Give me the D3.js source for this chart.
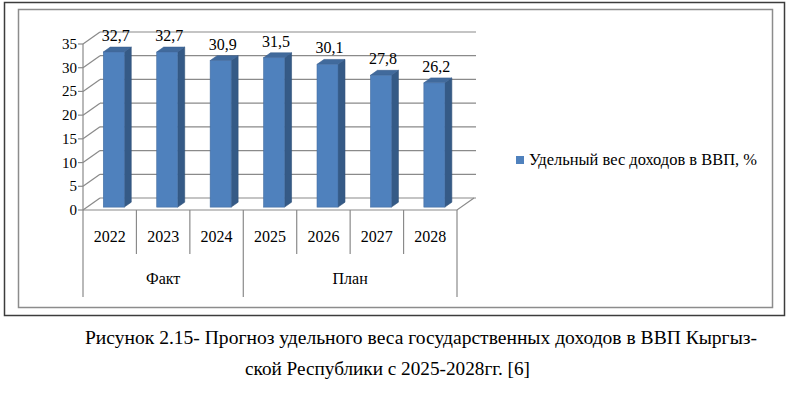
<!DOCTYPE html>
<html><head><meta charset="utf-8"><script src="https://cdn.jsdelivr.net/npm/d3@7"></script></head>
<body style="margin:0">
<script>
// chart data
var years = ["2022", "2023", "2024", "2025", "2026", "2027", "2028"];
var values = [32.7, 32.7, 30.9, 31.5, 30.1, 27.8, 26.2];
var groupNames = ["Факт", "План"];
var groupSizes = [3, 4];
var yTicks = [0, 5, 10, 15, 20, 25, 30, 35];
var seriesName = "Удельный вес доходов в ВВП, %";
var captionLines = [
  "Рисунок 2.15- Прогноз удельного веса государственных доходов в ВВП Кыргыз-",
  "ской Республики с 2025-2028гг. [6]"
];

var W = 800, H = 393;
var DX = 17, DY = -12; // depth of the 3d floor / walls
var FONT = '"Liberation Serif", "Times New Roman", serif';

var svg = d3.select("body").append("svg")
    .attr("width", W)
    .attr("height", H);

var x = d3.scaleBand().domain(years).range([83, 457]);
var y = d3.scaleLinear().domain([0, 35]).range([210, 44]);

// frames
svg.append("rect")
    .attr("x", 4.5).attr("y", 2.5).attr("width", 780).attr("height", 313)
    .attr("fill", "none").attr("stroke", "#3c3c3c").attr("stroke-width", 1.5);
svg.append("rect")
    .attr("x", 18.5).attr("y", 9.5).attr("width", 754).attr("height", 298)
    .attr("fill", "none").attr("stroke", "#8c8c8c").attr("stroke-width", 1.5);

var grid = svg.append("g").attr("stroke", "#8a8a8a").attr("stroke-width", 1.2).attr("fill", "none");

// back wall gridlines + side wall diagonals
yTicks.forEach(function(t) {
  grid.append("line")
      .attr("x1", x.range()[0] + DX).attr("x2", 476)
      .attr("y1", y(t) + DY).attr("y2", y(t) + DY);
  grid.append("line")
      .attr("x1", x.range()[0]).attr("x2", x.range()[0] + DX)
      .attr("y1", y(t)).attr("y2", y(t) + DY);
  grid.append("line")
      .attr("x1", x.range()[0] - 5).attr("x2", x.range()[0])
      .attr("y1", y(t)).attr("y2", y(t));
});
// vertical axis
grid.append("line")
    .attr("x1", x.range()[0]).attr("x2", x.range()[0])
    .attr("y1", y(35)).attr("y2", y(0));
// floor
grid.append("path")
    .attr("d", "M" + x.range()[0] + "," + y(0) +
               "L" + x.range()[1] + "," + y(0) +
               "L" + (x.range()[1] + DX) + "," + (y(0) + DY));

// category separators on the axis
var bounds = years.map(function(d) { return x(d); }).concat([x.range()[1]]);
var groupEdges = [0];
groupSizes.forEach(function(n, i) { groupEdges.push(groupEdges[i] + n); });
bounds.forEach(function(bx, i) {
  var isGroupEdge = groupEdges.indexOf(i) >= 0;
  grid.append("line")
      .attr("x1", bx).attr("x2", bx)
      .attr("y1", y(0)).attr("y2", isGroupEdge ? 297 : 254);
});

// y tick labels
svg.append("g").selectAll("text")
    .data(yTicks)
  .enter().append("text")
    .attr("x", 77)
    .attr("y", function(d) { return y(d) + 5; })
    .attr("text-anchor", "end")
    .style("font-family", FONT)
    .style("font-size", "15px")
    .text(function(d) { return d; });

// 3d bars
var f0 = 0.24, f1 = 0.65;
var bw = 21;
var bars = svg.append("g");
years.forEach(function(yr, i) {
  var v = values[i];
  var cx = x(yr) + x.bandwidth() / 2 + DX * f0;
  var x0 = cx - bw / 2, x1 = cx + bw / 2;
  var yb = y(0) + DY * f0, yt = y(v) + DY * f0;
  var ddx = DX * (f1 - f0), ddy = DY * (f1 - f0);
  // side
  bars.append("path")
      .attr("d", "M" + x1 + "," + yb + "L" + (x1 + ddx) + "," + (yb + ddy) +
                 "L" + (x1 + ddx) + "," + (yt + ddy) + "L" + x1 + "," + yt + "Z")
      .attr("fill", "#355a86").attr("stroke", "#2f5079").attr("stroke-width", 0.6);
  // top
  bars.append("path")
      .attr("d", "M" + x0 + "," + yt + "L" + x1 + "," + yt +
                 "L" + (x1 + ddx) + "," + (yt + ddy) + "L" + (x0 + ddx) + "," + (yt + ddy) + "Z")
      .attr("fill", "#416a9c").attr("stroke", "#3a6090").attr("stroke-width", 0.6);
  // front
  bars.append("rect")
      .attr("x", x0).attr("y", yt).attr("width", bw).attr("height", yb - yt)
      .attr("fill", "#4f81bd").attr("stroke", "#466fa3").attr("stroke-width", 0.6);
  // value label
  bars.append("text")
      .attr("x", cx + 2)
      .attr("y", yt + ddy - 6)
      .attr("text-anchor", "middle")
      .style("font-family", FONT)
      .style("font-size", "16px")
      .text(String(v).replace(".", ","));
});

// year labels
svg.append("g").selectAll("text")
    .data(years)
  .enter().append("text")
    .attr("x", function(d) { return x(d) + x.bandwidth() / 2; })
    .attr("y", 242)
    .attr("text-anchor", "middle")
    .style("font-family", FONT)
    .style("font-size", "16px")
    .text(function(d) { return d; });

// group labels
groupNames.forEach(function(g, i) {
  var a = bounds[groupEdges[i]], b = bounds[groupEdges[i + 1]];
  svg.append("text")
      .attr("x", (a + b) / 2)
      .attr("y", 284)
      .attr("text-anchor", "middle")
      .style("font-family", FONT)
      .style("font-size", "16px")
      .text(g);
});

// legend
svg.append("rect")
    .attr("x", 516).attr("y", 156).attr("width", 8).attr("height", 8)
    .attr("fill", "#4f81bd");
svg.append("text")
    .attr("x", 529).attr("y", 165)
    .style("font-family", FONT)
    .style("font-size", "16px")
    .attr("textLength", 228)
    .attr("lengthAdjust", "spacingAndGlyphs")
    .text(seriesName);

// caption
svg.append("text")
    .attr("x", 85).attr("y", 344)
    .style("font-family", FONT)
    .style("font-size", "19px")
    .attr("textLength", 672)
    .attr("lengthAdjust", "spacingAndGlyphs")
    .text(captionLines[0]);
svg.append("text")
    .attr("x", 245).attr("y", 375)
    .style("font-family", FONT)
    .style("font-size", "19px")
    .attr("textLength", 285)
    .attr("lengthAdjust", "spacingAndGlyphs")
    .text(captionLines[1]);
</script>
</body></html>
